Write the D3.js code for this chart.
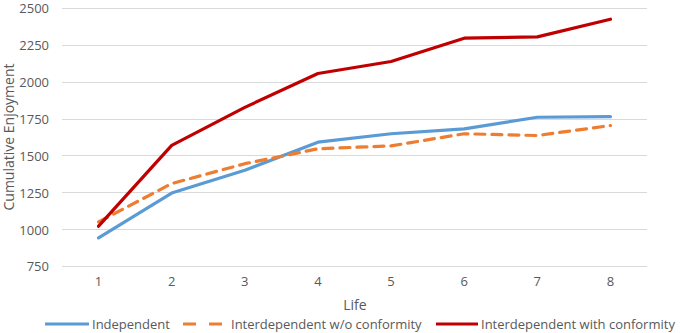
<!DOCTYPE html>
<html><head><meta charset="utf-8">
<script src="https://cdn.jsdelivr.net/npm/d3@7"></script>
<style>body{margin:0;background:#fff}svg{display:block}text{font-family:"Open Sans","Liberation Sans",sans-serif;fill:#595959}</style>
</head><body><svg id="c" width="680" height="333"></svg>
<script>
const lives = ["1","2","3","4","5","6","7","8"];
const independent = [941, 1245, 1399, 1590, 1647, 1680, 1759, 1763];
const interNoConf = [1049, 1309, 1444, 1545, 1565, 1647, 1635, 1703];
const interConf = [1020, 1568, 1826, 2056, 2137, 2295, 2304, 2424];
const yTicks = [750, 1000, 1250, 1500, 1750, 2000, 2250, 2500];
const seriesNames = ["Independent", "Interdependent w/o conformity", "Interdependent with conformity"];

const svg = d3.select("#c");
const x = d3.scaleBand().domain(lives).range([62, 647]);
const y = d3.scaleLinear().domain([750, 2500]).range([266, 8]);

// gridlines
svg.append("g").selectAll("line").data(yTicks).join("line")
  .attr("x1", 62).attr("x2", 647)
  .attr("y1", d => Math.round(y(d)) + 0.5).attr("y2", d => Math.round(y(d)) + 0.5)
  .attr("stroke", "#d9d9d9").attr("stroke-width", 1);

// y axis
const ya = svg.append("g").attr("transform", "translate(49,0)")
  .call(d3.axisLeft(y).tickValues(yTicks).tickFormat(d3.format("d")).tickSize(0).tickPadding(0));
ya.select(".domain").remove();
ya.selectAll("text").style("font-size", "13px").attr("fill", "#595959").attr("dy", "0.38em");

// x axis
const xa = svg.append("g").attr("transform", "translate(0,277)")
  .call(d3.axisBottom(x).tickSize(0).tickPadding(0));
xa.select(".domain").remove();
xa.selectAll("text").style("font-size", "13px").attr("fill", "#595959");

svg.append("text").attr("transform", "translate(14,137) rotate(-90)")
  .attr("text-anchor", "middle").style("font-size", "14px").text("Cumulative Enjoyment");
svg.append("text").attr("x", 355).attr("y", 310).attr("text-anchor", "middle")
  .style("font-size", "14px").text("Life");

const series = [
  {name: seriesNames[0], values: independent, color: "#5B9BD5", dash: null},
  {name: seriesNames[1], values: interNoConf, color: "#ED7D31", dash: "10,7"},
  {name: seriesNames[2], values: interConf, color: "#C00000", dash: null}
];
const line = d3.line().x((d, i) => x(lives[i]) + x.bandwidth() / 2).y(d => y(d));
svg.append("g").selectAll("path").data(series).join("path")
  .attr("d", d => line(d.values)).attr("fill", "none")
  .attr("stroke", d => d.color).attr("stroke-width", 3.2)
  .attr("stroke-dasharray", d => d.dash).attr("stroke-linecap", "round").attr("stroke-linejoin", "round");

// legend
const legX = [45, 183, 436];
const legW = [44, 39, 42];
const lg = svg.append("g").selectAll("g").data(series).join("g")
  .attr("transform", (d, i) => `translate(${legX[i]},324)`);
lg.append("line").attr("x1", 0).attr("x2", (d, i) => legW[i]).attr("y1", 0).attr("y2", 0)
  .attr("stroke", d => d.color).attr("stroke-width", 3.2)
  .attr("stroke-dasharray", d => d.dash ? "13,13" : null);
lg.append("text").attr("x", (d, i) => legW[i] + (i === 1 ? 9 : 3)).attr("y", 5)
  .style("font-size", "13px").text(d => d.name);
</script></body></html>
